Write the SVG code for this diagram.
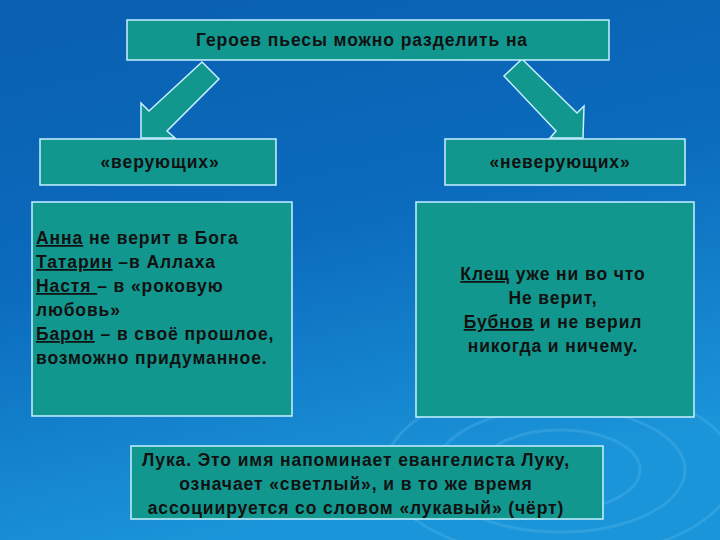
<svg xmlns="http://www.w3.org/2000/svg" width="720" height="540" viewBox="0 0 720 540">
<defs>
<linearGradient id="bg" x1="0" y1="0" x2="0.3" y2="1">
<stop offset="0" stop-color="#0a5fb0"/><stop offset="0.5" stop-color="#0b6bbd"/><stop offset="1" stop-color="#1b95d9"/>
</linearGradient>
<style>
.box{fill:#12978f;stroke:#c8f0ff;stroke-width:1.5}
.t{font-family:"Liberation Sans",Arial,sans-serif;font-weight:bold;font-size:17.5px;letter-spacing:0.9px;fill:#111}
.c{text-anchor:middle}
.r{fill:none;stroke:#6cc4ee;stroke-opacity:0.25;stroke-width:3}
</style>
</defs>
<rect width="720" height="540" fill="url(#bg)"/>
<g>
<ellipse class="r" cx="560" cy="470" rx="40" ry="20"/>
<ellipse class="r" cx="560" cy="470" rx="80" ry="40"/>
<ellipse class="r" cx="560" cy="470" rx="125" ry="62"/>
<ellipse class="r" cx="560" cy="470" rx="175" ry="88"/>
</g>
<g id="connectors">
<polygon class="box" points="202,62 219,79 167,131 175,138 141,138 141,103 149,111"/>
<polygon class="box" points="522,59 577,113 584,106 583,138 550,138 556,131 504,76"/>
</g>
<g id="top"><rect class="box" x="127" y="20" width="482" height="40"/><text class="t c" x="362" y="46">Героев пьесы можно разделить на</text></g>
<g id="believers"><rect class="box" x="40" y="139" width="236" height="46"/><text class="t c" x="160" y="168">«верующих»</text></g>
<g id="nonbelievers"><rect class="box" x="445" y="139" width="240" height="46"/><text class="t c" x="560" y="168">«неверующих»</text></g>
<g id="left"><rect class="box" x="32" y="202" width="260" height="214"/>
<text class="t" x="36" y="244"><tspan text-decoration="underline">Анна</tspan> не верит в Бога</text>
<text class="t" x="36" y="268"><tspan text-decoration="underline">Татарин</tspan> –в Аллаха</text>
<text class="t" x="36" y="292"><tspan text-decoration="underline">Настя </tspan>– в «роковую</text>
<text class="t" x="36" y="316">любовь»</text>
<text class="t" x="36" y="340"><tspan text-decoration="underline">Барон</tspan> – в своё прошлое,</text>
<text class="t" x="36" y="364">возможно придуманное.</text>
</g>
<g id="right"><rect class="box" x="416" y="202" width="278" height="215"/>
<text class="t c" x="553" y="280"><tspan text-decoration="underline">Клещ</tspan> уже ни во что</text>
<text class="t c" x="553" y="304">Не верит,</text>
<text class="t c" x="553" y="328"><tspan text-decoration="underline">Бубнов</tspan> и не верил</text>
<text class="t c" x="553" y="352">никогда и ничему.</text>
</g>
<g id="luka"><rect class="box" x="131" y="446" width="472" height="73"/>
<text class="t c" x="356" y="466">Лука. Это имя напоминает евангелиста Луку,</text>
<text class="t c" x="356" y="490">означает «светлый», и в то же время</text>
<text class="t c" x="356" y="514">ассоциируется со словом «лукавый» (чёрт)</text>
</g>
</svg>
